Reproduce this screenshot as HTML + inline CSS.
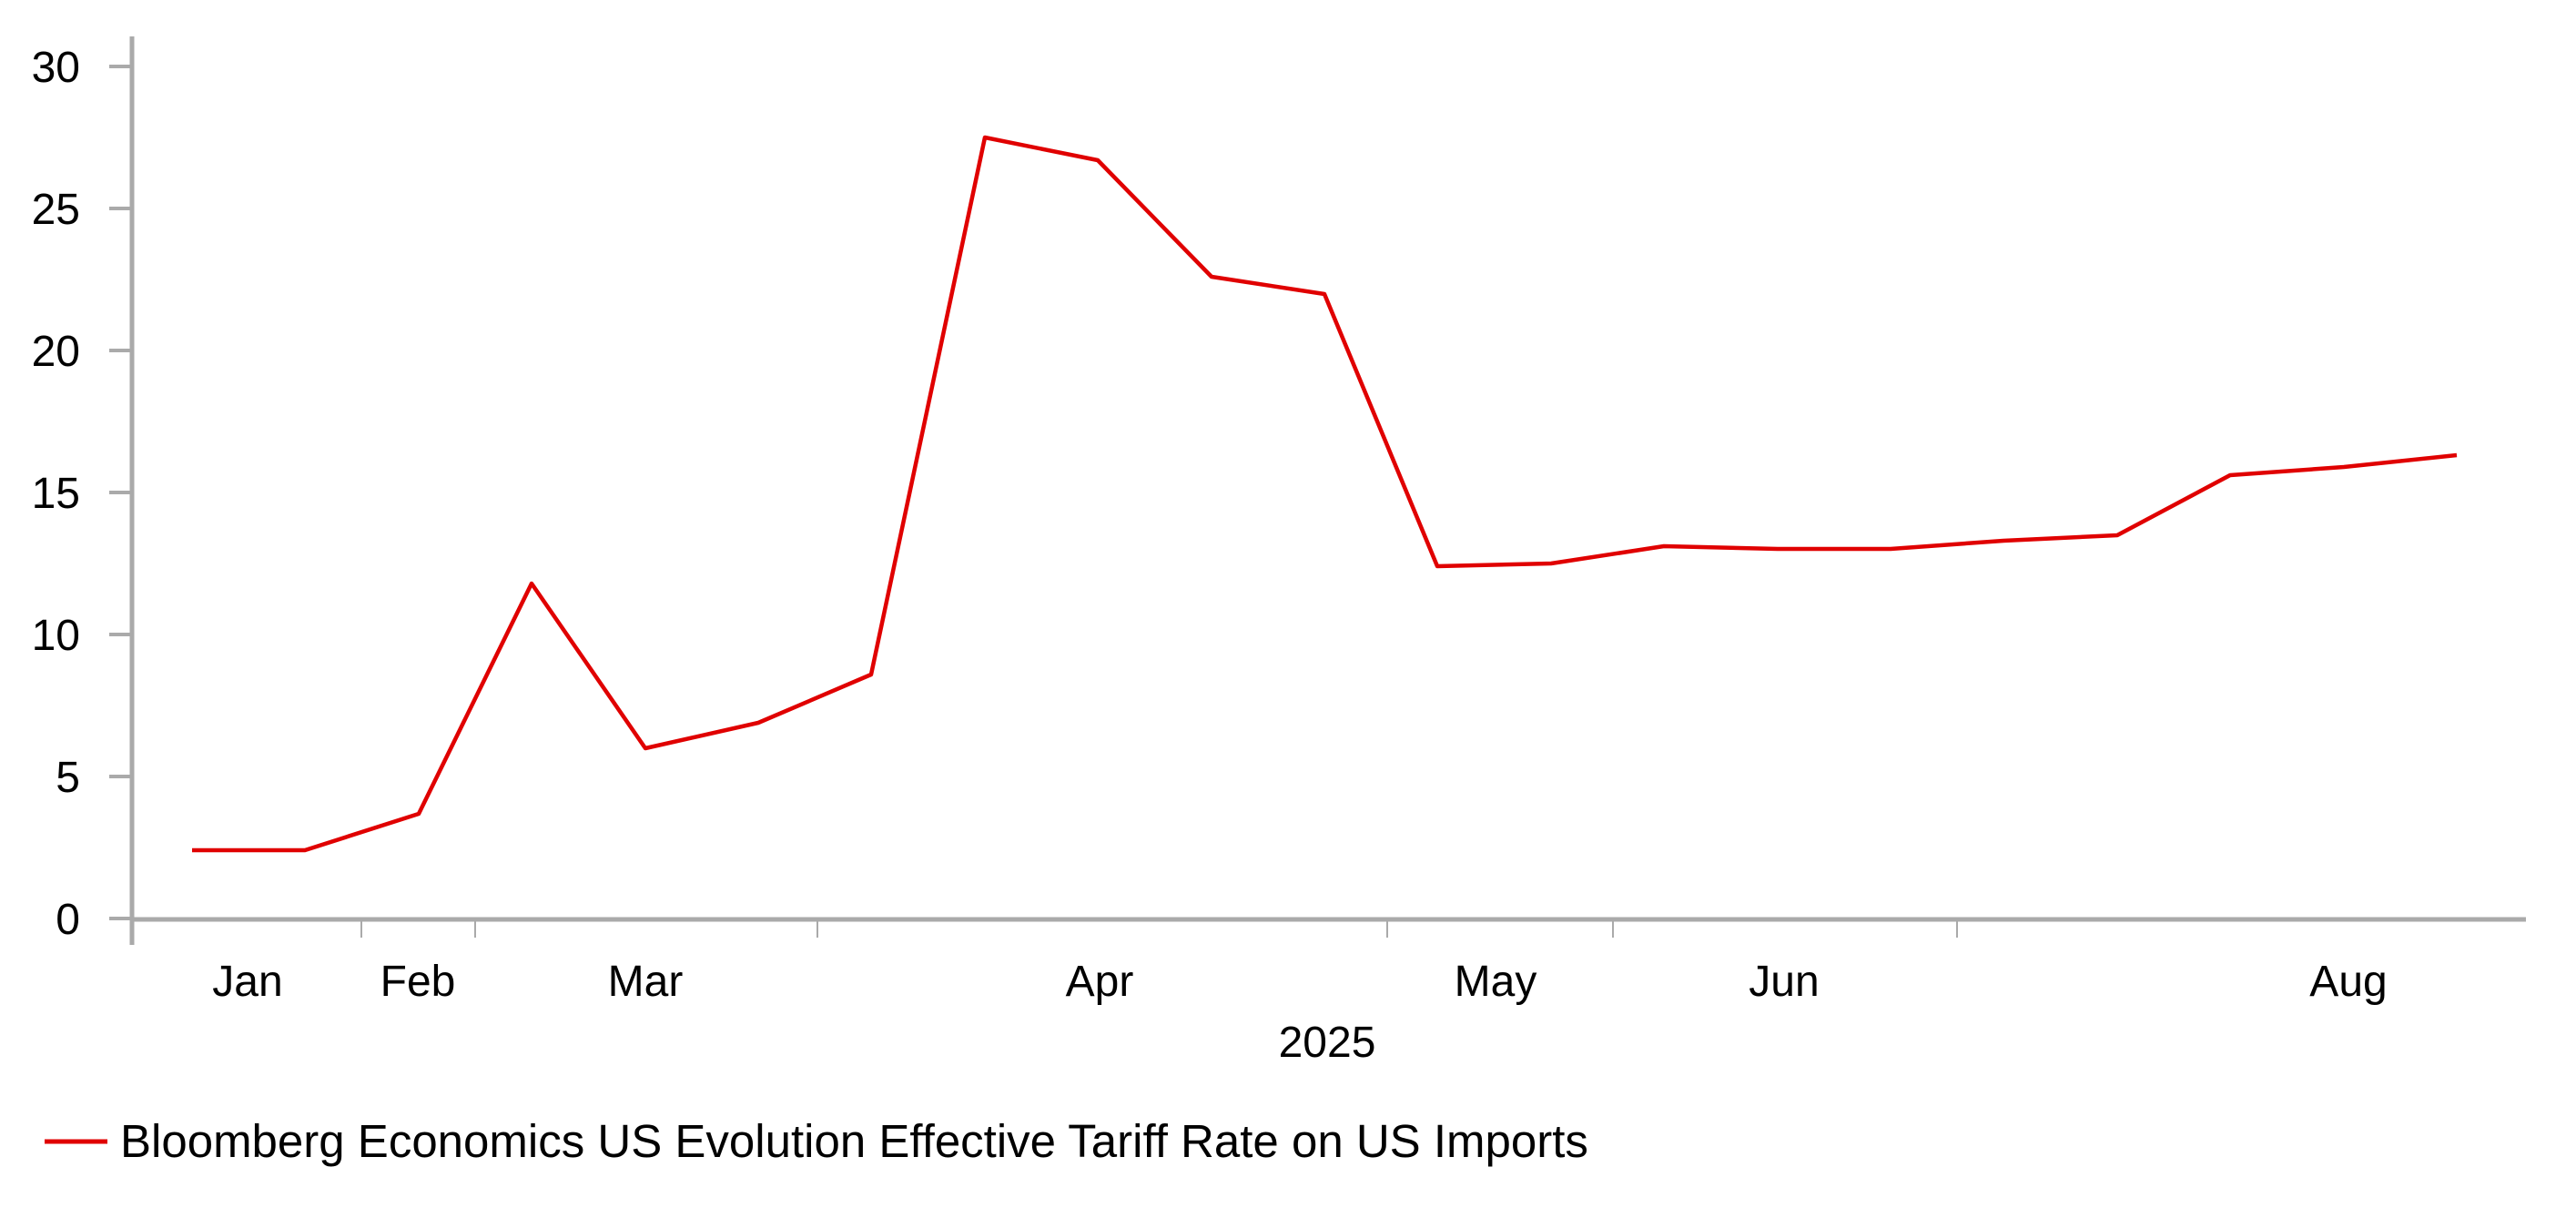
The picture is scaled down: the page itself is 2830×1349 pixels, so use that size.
<!DOCTYPE html>
<html><head><meta charset="utf-8"><style>html,body{margin:0;padding:0;background:#fff}svg{display:block}text{font-family:"Liberation Sans",sans-serif;fill:#000}</style></head>
<body>
<svg width="2830" height="1349" viewBox="0 0 2830 1349" xmlns="http://www.w3.org/2000/svg">
<g stroke="#aaa">
<line x1="145" y1="40" x2="145" y2="1038" stroke-width="5"/>
<line x1="143" y1="1010" x2="2775" y2="1010" stroke-width="5"/>
<g stroke-width="4">
<line x1="120" y1="73" x2="145" y2="73"/><line x1="120" y1="229" x2="145" y2="229"/><line x1="120" y1="385" x2="145" y2="385"/><line x1="120" y1="541" x2="145" y2="541"/><line x1="120" y1="697" x2="145" y2="697"/><line x1="120" y1="853" x2="145" y2="853"/><line x1="120" y1="1009" x2="145" y2="1009"/>
</g>
<g stroke-width="2">
<line x1="397" y1="1010" x2="397" y2="1030"/><line x1="522" y1="1010" x2="522" y2="1030"/><line x1="898" y1="1010" x2="898" y2="1030"/><line x1="1524" y1="1010" x2="1524" y2="1030"/><line x1="1772" y1="1010" x2="1772" y2="1030"/><line x1="2150" y1="1010" x2="2150" y2="1030"/>
</g>
</g>
<g font-size="48" text-anchor="end">
<text x="88" y="90">30</text><text x="88" y="246">25</text><text x="88" y="402">20</text><text x="88" y="558">15</text><text x="88" y="714">10</text><text x="88" y="870">5</text><text x="88" y="1026">0</text>
</g>
<g font-size="48" text-anchor="middle">
<text x="272" y="1094">Jan</text><text x="459" y="1094">Feb</text><text x="709" y="1094">Mar</text><text x="1208" y="1094">Apr</text><text x="1643" y="1094">May</text><text x="1960" y="1094">Jun</text><text x="2580" y="1094">Aug</text>
<text x="1458" y="1161">2025</text>
</g>
<polyline fill="none" stroke="#e00000" stroke-width="4.5" stroke-linejoin="round" points="211,934 335,934 460,894 584,641 709,822 833,794 957,741 1082,151 1206,176 1331,304 1455,323 1579,622 1704,619 1828,600 1953,603 2077,603 2201,594 2326,588 2450,522 2575,513 2699,500"/>
<line x1="49" y1="1254" x2="118" y2="1254" stroke="#e00000" stroke-width="5"/>
<text x="132" y="1271" font-size="51">Bloomberg Economics US Evolution Effective Tariff Rate on US Imports</text>
</svg>
</body></html>
